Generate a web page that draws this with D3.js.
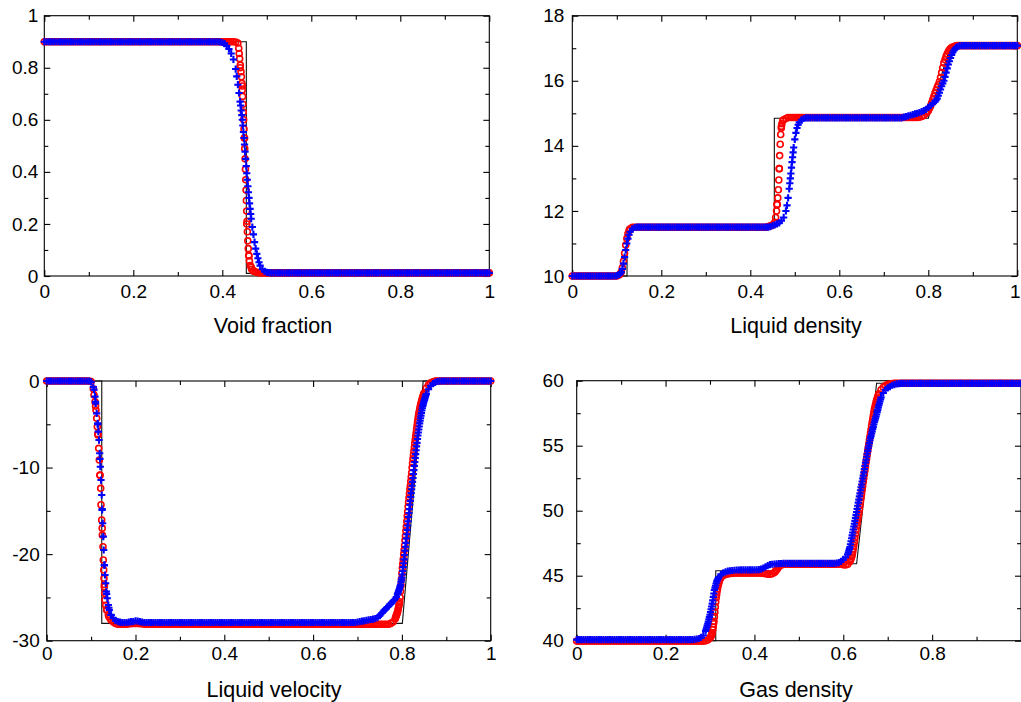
<!DOCTYPE html>
<html><head><meta charset="utf-8">
<script src="https://cdn.jsdelivr.net/npm/d3@7"></script>
<style>body{margin:0;background:#fff}svg{display:block}</style>
</head><body><svg id="c" width="1021" height="702"></svg>
<script>
// ---------- tick values and labels ----------
const xMajorTicks = [0, 0.2, 0.4, 0.6, 0.8, 1];
const xMinorTicks = [0.1, 0.3, 0.5, 0.7, 0.9];
const xTickLabels = ["0", "0.2", "0.4", "0.6", "0.8", "1"];
const gdXTickLabels = ["0", "0.2", "0.4", "0.6", "0.8", ""];
const vfYMajor = [0, 0.2, 0.4, 0.6, 0.8, 1];
const vfYMinor = [0.1, 0.3, 0.5, 0.7, 0.9];
const vfYLabels = ["0", "0.2", "0.4", "0.6", "0.8", "1"];
const ldYMajor = [10, 12, 14, 16, 18];
const ldYMinor = [11, 13, 15, 17];
const ldYLabels = ["10", "12", "14", "16", "18"];
const lvYMajor = [0, -10, -20, -30];
const lvYMinor = [-5, -15, -25];
const lvYLabels = ["0", "-10", "-20", "-30"];
const gdYMajor = [40, 45, 50, 55, 60];
const gdYMinor = [42.5, 47.5, 52.5, 57.5];
const gdYLabels = ["40", "45", "50", "55", "60"];
const titles = ["Void fraction", "Liquid density", "Liquid velocity", "Gas density"];

// ---------- exact solutions (black line) ----------
const vfExactX = [0, 0.454, 0.454, 1];
const vfExactY = [0.9, 0.9, 0.01, 0.01];
const ldExactX = [0, 0.123, 0.123, 0.454, 0.454, 0.8, 0.85, 1];
const ldExactY = [10, 10, 11.5, 11.5, 14.85, 14.85, 17.08, 17.08];
const lvExactX = [0, 0.124, 0.124, 0.801, 0.848, 1];
const lvExactY = [0, 0, -28, -28, 0, 0];
const gdExactX = [0, 0.313, 0.313, 0.454, 0.454, 0.63, 0.675, 1];
const gdExactY = [40, 40, 45.38, 45.38, 45.92, 45.92, 59.8, 59.8];

// ---------- numerical results on the uniform grid x = 0, 0.005, ..., 1 ----------
const vfRed = [
0.9,0.9,0.9,0.9,0.9,0.9,0.9,0.9,0.9,0.9,0.9,0.9,0.9,0.9,0.9,0.9,0.9,0.9,0.9,0.9,
0.9,0.9,0.9,0.9,0.9,0.9,0.9,0.9,0.9,0.9,0.9,0.9,0.9,0.9,0.9,0.9,0.9,0.9,0.9,0.9,
0.9,0.9,0.9,0.9,0.9,0.9,0.9,0.9,0.9,0.9,0.9,0.9,0.9,0.9,0.9,0.9,0.9,0.9,0.9,0.9,
0.9,0.9,0.9,0.9,0.9,0.9,0.9,0.9,0.9,0.9,0.9,0.9,0.9,0.9,0.9,0.9,0.9,0.9,0.9,0.9,
0.9,0.9,0.9,0.9,0.9,0.9,0.899,0.895,0.8,0.73,0.53,0.2,0.077,0.034,0.02,0.015,0.013,0.012,0.012,0.012,
0.012,0.012,0.012,0.012,0.012,0.012,0.012,0.012,0.012,0.012,0.012,0.012,0.012,0.012,0.012,0.012,0.012,0.012,0.012,0.012,
0.012,0.012,0.012,0.012,0.012,0.012,0.012,0.012,0.012,0.012,0.012,0.012,0.012,0.012,0.012,0.012,0.012,0.012,0.012,0.012,
0.012,0.012,0.012,0.012,0.012,0.012,0.012,0.012,0.012,0.012,0.012,0.012,0.012,0.012,0.012,0.012,0.012,0.012,0.012,0.012,
0.012,0.012,0.012,0.012,0.012,0.012,0.012,0.012,0.012,0.012,0.012,0.012,0.012,0.012,0.012,0.012,0.012,0.012,0.012,0.012,
0.012,0.012,0.012,0.012,0.012,0.012,0.012,0.012,0.012,0.012,0.012,0.012,0.012,0.012,0.012,0.012,0.012,0.012,0.012,0.012,
0.012];
const vfBlue = [
0.9,0.9,0.9,0.9,0.9,0.9,0.9,0.9,0.9,0.9,0.9,0.9,0.9,0.9,0.9,0.9,0.9,0.9,0.9,0.9,
0.9,0.9,0.9,0.9,0.9,0.9,0.9,0.9,0.9,0.9,0.9,0.9,0.9,0.9,0.9,0.9,0.9,0.9,0.9,0.9,
0.9,0.9,0.9,0.9,0.9,0.9,0.9,0.9,0.9,0.9,0.9,0.9,0.9,0.9,0.9,0.9,0.9,0.9,0.9,0.9,
0.9,0.9,0.9,0.9,0.9,0.9,0.9,0.9,0.9,0.9,0.9,0.9,0.9,0.9,0.9,0.9,0.9,0.9,0.9,0.899,
0.897,0.893,0.884,0.872,0.855,0.832,0.795,0.735,0.67,0.6,0.505,0.395,0.3,0.22,0.16,0.105,0.068,0.04,0.026,0.018,
0.014,0.013,0.012,0.012,0.012,0.012,0.012,0.012,0.012,0.012,0.012,0.012,0.012,0.012,0.012,0.012,0.012,0.012,0.012,0.012,
0.012,0.012,0.012,0.012,0.012,0.012,0.012,0.012,0.012,0.012,0.012,0.012,0.012,0.012,0.012,0.012,0.012,0.012,0.012,0.012,
0.012,0.012,0.012,0.012,0.012,0.012,0.012,0.012,0.012,0.012,0.012,0.012,0.012,0.012,0.012,0.012,0.012,0.012,0.012,0.012,
0.012,0.012,0.012,0.012,0.012,0.012,0.012,0.012,0.012,0.012,0.012,0.012,0.012,0.012,0.012,0.012,0.012,0.012,0.012,0.012,
0.012,0.012,0.012,0.012,0.012,0.012,0.012,0.012,0.012,0.012,0.012,0.012,0.012,0.012,0.012,0.012,0.012,0.012,0.012,0.012,
0.012];
const ldRed = [
10,10,10,10,10,10,10,10,10,10,10,10,10,10,10,10,10,10,10,10,
10,10.03,10.12,10.45,10.95,11.3,11.45,11.5,11.5,11.5,11.5,11.5,11.5,11.5,11.5,11.5,11.5,11.5,11.5,11.5,
11.5,11.5,11.5,11.5,11.5,11.5,11.5,11.5,11.5,11.5,11.5,11.5,11.5,11.5,11.5,11.5,11.5,11.5,11.5,11.5,
11.5,11.5,11.5,11.5,11.5,11.5,11.5,11.5,11.5,11.5,11.5,11.5,11.5,11.5,11.5,11.5,11.5,11.5,11.5,11.5,
11.5,11.5,11.5,11.5,11.5,11.5,11.5,11.5,11.52,11.54,11.57,11.65,12.2,13.3,14.6,14.8,14.84,14.87,14.87,14.87,
14.87,14.87,14.87,14.87,14.87,14.87,14.87,14.87,14.87,14.87,14.87,14.87,14.87,14.87,14.87,14.87,14.87,14.87,14.87,14.87,
14.87,14.87,14.87,14.87,14.87,14.87,14.87,14.87,14.87,14.87,14.87,14.87,14.87,14.87,14.87,14.87,14.87,14.87,14.87,14.87,
14.87,14.87,14.87,14.87,14.87,14.87,14.87,14.87,14.87,14.87,14.87,14.87,14.87,14.87,14.87,14.87,14.88,14.9,14.93,15.0,
15.08,15.22,15.42,15.62,15.8,15.97,16.25,16.55,16.75,16.9,16.99,17.04,17.07,17.08,17.08,17.08,17.08,17.08,17.08,17.08,
17.08,17.08,17.08,17.08,17.08,17.08,17.08,17.08,17.08,17.08,17.08,17.08,17.08,17.08,17.08,17.08,17.08,17.08,17.08,17.08,
17.08];
const ldBlue = [
10,10,10,10,10,10,10,10,10,10,10,10,10,10,10,10,10,10,10,10,
10.01,10.04,10.12,10.38,10.8,11.15,11.36,11.45,11.49,11.5,11.5,11.5,11.5,11.5,11.5,11.5,11.5,11.5,11.5,11.5,
11.5,11.5,11.5,11.5,11.5,11.5,11.5,11.5,11.5,11.5,11.5,11.5,11.5,11.5,11.5,11.5,11.5,11.5,11.5,11.5,
11.5,11.5,11.5,11.5,11.5,11.5,11.5,11.5,11.5,11.5,11.5,11.5,11.5,11.5,11.5,11.5,11.5,11.5,11.5,11.5,
11.5,11.5,11.5,11.5,11.5,11.5,11.5,11.5,11.5,11.52,11.55,11.57,11.6,11.63,11.7,11.8,12.0,12.4,13.0,13.65,
14.2,14.55,14.72,14.8,14.84,14.86,14.86,14.86,14.86,14.86,14.86,14.86,14.86,14.86,14.86,14.86,14.86,14.86,14.86,14.86,
14.86,14.86,14.86,14.86,14.86,14.86,14.86,14.86,14.86,14.86,14.86,14.86,14.86,14.86,14.86,14.86,14.86,14.86,14.86,14.86,
14.86,14.86,14.86,14.86,14.86,14.86,14.86,14.86,14.86,14.88,14.9,14.92,14.94,14.96,14.98,15.0,15.02,15.05,15.08,15.12,
15.18,15.24,15.3,15.36,15.45,15.63,15.83,16.0,16.25,16.5,16.7,16.87,16.98,17.04,17.07,17.08,17.08,17.08,17.08,17.08,
17.08,17.08,17.08,17.08,17.08,17.08,17.08,17.08,17.08,17.08,17.08,17.08,17.08,17.08,17.08,17.08,17.08,17.08,17.08,17.08,
17.08];
const lvRed = [
0,0,0,0,0,0,0,0,0,0,0,0,0,0,0,0,0,0,0,0,
-0.05,-0.9,-2.9,-6.1,-10.9,-17.0,-23.5,-26.4,-27.2,-27.6,-27.85,-28.0,-28.1,-28.1,-28.1,-28.1,-28.1,-28.05,-28.05,-28.0,
-28.0,-28.0,-28.05,-28.05,-28.1,-28.1,-28.1,-28.1,-28.1,-28.1,-28.1,-28.1,-28.1,-28.1,-28.1,-28.1,-28.1,-28.1,-28.1,-28.1,
-28.1,-28.1,-28.1,-28.1,-28.1,-28.1,-28.1,-28.1,-28.1,-28.1,-28.1,-28.1,-28.1,-28.1,-28.1,-28.1,-28.1,-28.1,-28.1,-28.1,
-28.1,-28.1,-28.1,-28.1,-28.1,-28.1,-28.1,-28.1,-28.1,-28.1,-28.1,-28.1,-28.1,-28.1,-28.1,-28.1,-28.1,-28.1,-28.1,-28.1,
-28.1,-28.1,-28.1,-28.1,-28.1,-28.1,-28.1,-28.1,-28.1,-28.1,-28.1,-28.1,-28.1,-28.1,-28.1,-28.1,-28.1,-28.1,-28.1,-28.1,
-28.1,-28.1,-28.1,-28.1,-28.1,-28.1,-28.1,-28.1,-28.1,-28.1,-28.1,-28.1,-28.1,-28.1,-28.1,-28.1,-28.1,-28.1,-28.1,-28.1,
-28.1,-28.1,-28.1,-28.1,-28.1,-28.1,-28.1,-28.1,-28.1,-28.1,-28.1,-28.1,-28.1,-28.1,-28.1,-28.0,-27.85,-27.45,-26.7,-25.5,
-22.2,-19.5,-16.8,-14.0,-11.6,-9.0,-6.8,-4.8,-3.3,-2.2,-1.4,-0.8,-0.45,-0.2,-0.08,-0.02,0,0,0,0,
0,0,0,0,0,0,0,0,0,0,0,0,0,0,0,0,0,0,0,0,
0];
const lvBlue = [
0,0,0,0,0,0,0,0,0,0,0,0,0,0,0,0,0,0,0,0,
-0.1,-0.7,-2.4,-5.0,-9.0,-14.8,-21.3,-24.6,-26.2,-27.0,-27.4,-27.65,-27.8,-27.85,-27.9,-27.9,-27.9,-27.85,-27.8,-27.8,
-27.72,-27.75,-27.8,-27.85,-27.9,-27.9,-27.9,-27.9,-27.9,-27.9,-27.9,-27.9,-27.9,-27.9,-27.9,-27.9,-27.9,-27.9,-27.9,-27.9,
-27.9,-27.9,-27.9,-27.9,-27.9,-27.9,-27.9,-27.9,-27.9,-27.9,-27.9,-27.9,-27.9,-27.9,-27.9,-27.9,-27.9,-27.9,-27.9,-27.9,
-27.9,-27.9,-27.9,-27.9,-27.9,-27.9,-27.9,-27.9,-27.9,-27.9,-27.9,-27.9,-27.9,-27.9,-27.9,-27.9,-27.9,-27.9,-27.9,-27.9,
-27.9,-27.9,-27.9,-27.9,-27.9,-27.9,-27.9,-27.9,-27.9,-27.9,-27.9,-27.9,-27.9,-27.9,-27.9,-27.9,-27.9,-27.9,-27.9,-27.9,
-27.9,-27.9,-27.9,-27.9,-27.9,-27.9,-27.9,-27.9,-27.9,-27.9,-27.9,-27.9,-27.9,-27.9,-27.9,-27.9,-27.9,-27.9,-27.9,-27.9,
-27.85,-27.8,-27.75,-27.7,-27.65,-27.6,-27.55,-27.5,-27.45,-27.35,-27.1,-26.8,-26.5,-26.25,-26.0,-25.75,-25.45,-25.15,-24.65,-23.9,
-22.7,-20.6,-18.2,-15.7,-13.4,-11.2,-8.9,-6.7,-4.9,-3.4,-2.3,-1.5,-0.95,-0.55,-0.3,-0.15,-0.06,-0.02,0,0,
0,0,0,0,0,0,0,0,0,0,0,0,0,0,0,0,0,0,0,0,
0];
const gdRed = [
39.97,39.97,39.97,39.97,39.97,39.97,39.97,39.97,39.97,39.97,39.97,39.97,39.97,39.97,39.97,39.97,39.97,39.97,39.97,39.97,
39.97,39.97,39.97,39.97,39.97,39.97,39.97,39.97,39.97,39.97,39.97,39.97,39.97,39.97,39.97,39.97,39.97,39.97,39.97,39.97,
39.97,39.97,39.97,39.97,39.97,39.97,39.97,39.97,39.97,39.97,39.97,39.97,39.97,39.97,39.97,39.97,39.97,39.97,39.99,40.05,
40.2,40.6,41.85,43.55,44.48,44.88,45.02,45.1,45.14,45.17,45.18,45.2,45.2,45.2,45.2,45.2,45.2,45.2,45.2,45.2,
45.2,45.2,45.2,45.2,45.18,45.15,45.12,45.12,45.15,45.25,45.45,45.7,45.82,45.86,45.88,45.88,45.88,45.88,45.88,45.88,
45.88,45.88,45.88,45.88,45.88,45.88,45.88,45.88,45.88,45.88,45.88,45.88,45.88,45.88,45.88,45.88,45.88,45.88,45.88,45.88,
45.84,45.82,45.88,46.1,46.6,47.6,48.8,49.8,51.0,52.2,53.4,54.6,55.7,56.8,57.8,58.5,59.0,59.3,59.5,59.62,
59.7,59.75,59.78,59.8,59.8,59.8,59.8,59.8,59.8,59.8,59.8,59.8,59.8,59.8,59.8,59.8,59.8,59.8,59.8,59.8,
59.8,59.8,59.8,59.8,59.8,59.8,59.8,59.8,59.8,59.8,59.8,59.8,59.8,59.8,59.8,59.8,59.8,59.8,59.8,59.8,
59.8,59.8,59.8,59.8,59.8,59.8,59.8,59.8,59.8,59.8,59.8,59.8,59.8,59.8,59.8,59.8,59.8,59.8,59.8,59.8,
59.8];
const gdBlue = [
40.08,40.08,40.08,40.08,40.08,40.08,40.08,40.08,40.08,40.08,40.08,40.08,40.08,40.08,40.08,40.08,40.08,40.08,40.08,40.08,
40.08,40.08,40.08,40.08,40.08,40.08,40.08,40.08,40.08,40.08,40.08,40.08,40.08,40.08,40.08,40.08,40.08,40.08,40.08,40.08,
40.08,40.08,40.08,40.08,40.08,40.08,40.08,40.08,40.08,40.08,40.08,40.08,40.08,40.1,40.13,40.17,40.25,40.4,40.75,41.3,
42.0,42.85,43.9,44.55,44.9,45.1,45.22,45.3,45.35,45.38,45.4,45.42,45.44,45.44,45.45,45.45,45.45,45.45,45.45,45.45,
45.45,45.45,45.46,45.5,45.58,45.68,45.78,45.85,45.88,45.9,45.92,45.93,45.94,45.95,45.95,45.95,45.95,45.95,45.95,45.95,
45.95,45.95,45.95,45.95,45.95,45.95,45.95,45.95,45.95,45.95,45.95,45.95,45.95,45.95,45.95,45.95,45.95,45.97,46.0,46.1,
46.25,46.4,46.65,47.2,48.1,49.0,49.9,50.85,51.8,52.7,53.7,54.6,55.4,56.1,56.8,57.4,58.1,58.7,59.05,59.3,
59.45,59.55,59.65,59.7,59.75,59.78,59.8,59.8,59.8,59.8,59.8,59.8,59.8,59.8,59.8,59.8,59.8,59.8,59.8,59.8,
59.8,59.8,59.8,59.8,59.8,59.8,59.8,59.8,59.8,59.8,59.8,59.8,59.8,59.8,59.8,59.8,59.8,59.8,59.8,59.8,
59.8,59.8,59.8,59.8,59.8,59.8,59.8,59.8,59.8,59.8,59.8,59.8,59.8,59.8,59.8,59.8,59.8,59.8,59.8,59.8,
59.8];

// ---------- extra cells read in the steep parts, [x, value] ----------
const vfRedFine = [[0.437,0.875],[0.438,0.855],[0.439,0.835],[0.4405,0.81],[0.442,0.785],[0.443,0.765],[0.444,0.74],[0.4448,0.715],[0.4456,0.69],[0.4464,0.66],[0.4472,0.63],[0.448,0.6],[0.4488,0.565],[0.4496,0.53],[0.4504,0.49],[0.4512,0.45],[0.452,0.41],[0.4527,0.37],[0.4534,0.33],[0.4541,0.29],[0.4548,0.25],[0.4556,0.21],[0.4564,0.17],[0.4573,0.135],[0.4583,0.105],[0.4595,0.08],[0.461,0.058],[0.463,0.04],[0.466,0.026],[0.47,0.018]];
const vfBlueFine = [[0.4325,0.767],[0.4375,0.703],[0.4412,0.655],[0.4425,0.636],[0.4438,0.618],[0.4462,0.578],[0.4475,0.553],[0.4488,0.53],[0.4512,0.478],[0.4525,0.45],[0.4538,0.422],[0.4562,0.37],[0.4575,0.345],[0.4588,0.322],[0.4612,0.279],[0.4625,0.258],[0.4638,0.238],[0.4675,0.188],[0.4725,0.13],[0.4775,0.085],[0.4825,0.053]];
const ldRedFine = [[0.1075,10.06],[0.1125,10.25],[0.1175,10.7],[0.1225,11.15],[0.1275,11.4],[0.457,11.8],[0.459,12.0],[0.4605,12.2],[0.4618,12.4],[0.463,12.65],[0.464,12.95],[0.4652,13.3],[0.466,13.7],[0.4672,14.05],[0.4683,14.35],[0.4697,14.55],[0.471,14.68],[0.473,14.78],[0.7975,15.04],[0.8025,15.15],[0.8075,15.32],[0.8125,15.52],[0.8175,15.71],[0.8225,15.88],[0.8275,16.1],[0.8325,16.4],[0.8375,16.65],[0.8425,16.83],[0.8475,16.95],[0.8525,17.02]];
const ldBlueFine = [[0.1075,10.07],[0.1125,10.22],[0.1175,10.58],[0.1225,11.0],[0.1275,11.27],[0.4825,12.17],[0.4875,12.68],[0.4888,12.85],[0.4912,13.15],[0.4925,13.33],[0.4938,13.5],[0.4962,13.8],[0.4975,13.95],[0.5025,14.4],[0.5075,14.65],[0.8175,15.4],[0.8225,15.54],[0.8275,15.73],[0.8325,15.92],[0.8375,16.12],[0.8425,16.38],[0.8475,16.6],[0.8525,16.79],[0.8575,16.93],[0.8625,17.02]];
const lvRedFine = [[0.1066,-1.62],[0.1088,-2.39],[0.111,-3.35],[0.1126,-4.31],[0.114,-5.28],[0.1156,-6.24],[0.1171,-7.78],[0.1185,-9.13],[0.12,-10.86],[0.1216,-12.4],[0.1223,-14.3],[0.1239,-16.06],[0.1253,-17.8],[0.1268,-19.14],[0.1275,-20.68],[0.1284,-21.83],[0.1291,-22.8],[0.1298,-23.76],[0.1306,-24.53],[0.1313,-25.3],[0.1329,-25.9],[0.1351,-26.45],[0.1388,-27.0],[0.1426,-27.4],
[0.786,-27.3],[0.787,-27.15],[0.788,-27.0],[0.789,-26.85],[0.791,-26.5],[0.792,-26.25],[0.793,-26.0],[0.794,-25.8],[0.796,-25.0],[0.797,-24.3],[0.798,-23.6],[0.799,-22.9],[0.801,-21.6],[0.802,-21.1],[0.803,-20.6],[0.804,-20.0],[0.806,-19.0],[0.807,-18.4],[0.808,-17.9],[0.809,-17.3],[0.811,-16.2],[0.812,-15.6],[0.813,-15.1],[0.814,-14.5],[0.816,-13.5],[0.817,-13.0],[0.818,-12.5],[0.819,-12.1],[0.821,-11.1],[0.822,-10.6],[0.823,-10.0],[0.824,-9.5],[0.826,-8.55],[0.827,-8.1],[0.828,-7.65],[0.829,-7.2],[0.831,-6.4],[0.832,-6.0],[0.833,-5.6],[0.834,-5.2],[0.836,-4.45],[0.837,-4.1],[0.838,-3.8],[0.839,-3.55],[0.841,-3.05],[0.842,-2.8],[0.843,-2.6],[0.844,-2.4],[0.846,-2.0],[0.847,-1.85],[0.848,-1.7],[0.849,-1.55]];
const lvBlueFine = [[0.1066,-1.0],[0.1088,-1.8],[0.1103,-2.6],[0.1126,-3.74],[0.1149,-4.89],[0.1163,-5.85],[0.1178,-6.82],[0.1194,-8.35],[0.1208,-9.9],[0.1223,-11.44],[0.1239,-13.17],[0.1246,-14.9],[0.1261,-16.44],[0.1275,-17.98],[0.1284,-19.52],[0.1298,-21.25],[0.1313,-22.41],[0.1329,-23.37],[0.1343,-24.33],[0.1365,-25.1],[0.1388,-25.88],[0.141,-26.45],[0.1448,-27.03],
[0.7525,-26.95],[0.7575,-26.65],[0.7625,-26.4],[0.7675,-26.1],[0.7725,-25.85],[0.7775,-25.6],[0.7825,-25.3],[0.7875,-24.95],
[0.791,-24.5],[0.792,-24.35],[0.793,-24.2],[0.794,-24.05],[0.796,-23.7],[0.797,-23.5],[0.798,-23.2],[0.799,-22.95],[0.801,-22.35],[0.802,-21.95],[0.803,-21.5],[0.804,-21.05],[0.806,-20.1],[0.807,-19.6],[0.808,-19.15],[0.809,-18.7],[0.811,-17.7],[0.812,-17.2],[0.813,-16.7],[0.814,-16.2],[0.816,-15.25],[0.817,-14.8],[0.818,-14.3],[0.819,-13.85],[0.821,-12.95],[0.822,-12.5],[0.823,-12.1],[0.824,-11.65],[0.826,-10.75],[0.827,-10.3],[0.828,-9.8],[0.829,-9.35],[0.831,-8.45],[0.832,-8.0],[0.833,-7.55],[0.834,-7.15],[0.836,-6.3],[0.837,-5.95],[0.838,-5.6],[0.839,-5.25],[0.841,-4.6],[0.842,-4.3],[0.843,-4.0],[0.844,-3.7],[0.846,-3.15],[0.847,-2.9],[0.848,-2.7],[0.849,-2.5],[0.851,-2.15],[0.852,-2.0],[0.853,-1.8],[0.854,-1.65]];
const gdRedFine = [[0.302,40.3],[0.303,40.4],[0.304,40.5],[0.306,40.85],[0.307,41.05],[0.308,41.3],[0.309,41.5],[0.311,42.2],[0.312,42.6],[0.313,43.0],[0.314,43.3],[0.316,43.8],[0.317,44.0],[0.318,44.2],[0.319,44.35],[0.321,44.6],[0.322,44.7],[0.323,44.78],[0.324,44.84],[0.4475,45.35],[0.4525,45.58],
[0.61625,46.2],[0.6175,46.33],[0.61875,46.46],[0.62125,46.83],[0.6225,47.08],[0.62375,47.33],[0.62625,47.9],[0.6275,48.2],[0.62875,48.5],[0.63125,49.05],[0.6325,49.3],[0.63375,49.55],[0.63625,50.1],[0.6375,50.4],[0.63875,50.7],[0.64125,51.3],[0.6425,51.6],[0.64375,51.9],[0.64625,52.5],[0.6475,52.8],[0.64875,53.1],[0.65125,53.7],[0.6525,54.0],[0.65375,54.3],[0.65625,54.88],[0.6575,55.15],[0.65875,55.43],[0.66125,55.98],[0.6625,56.25],[0.66375,56.53],[0.66625,57.05],[0.6675,57.3],[0.66875,57.55],[0.67125,57.98],[0.6725,58.15],[0.67375,58.33],[0.67625,58.63],[0.6775,58.75],[0.67875,58.88]];
const gdBlueFine = [[0.29125,40.88],[0.2925,41.02],[0.29375,41.16],[0.29625,41.47],[0.2975,41.65],[0.29875,41.82],[0.30125,42.2],[0.3025,42.42],[0.30375,42.63],[0.30625,43.1],[0.3075,43.37],[0.30875,43.63],[0.31125,44.07],[0.3125,44.23],[0.31375,44.4],[0.31625,44.64],[0.3175,44.73],[0.31875,44.82],
[0.61125,46.78],[0.6125,46.92],[0.61375,47.06],[0.61625,47.42],[0.6175,47.65],[0.61875,47.88],[0.62125,48.32],[0.6225,48.55],[0.62375,48.78],[0.62625,49.22],[0.6275,49.45],[0.62875,49.68],[0.63125,50.14],[0.6325,50.38],[0.63375,50.62],[0.63625,51.1],[0.6375,51.33],[0.63875,51.57],[0.64125,52.02],[0.6425,52.25],[0.64375,52.48],[0.64625,52.95],[0.6475,53.2],[0.64875,53.45],[0.65125,53.92],[0.6525,54.15],[0.65375,54.38],[0.65625,54.8],[0.6575,55.0],[0.65875,55.2],[0.66125,55.58],[0.6625,55.75],[0.66375,55.93],[0.66625,56.28],[0.6675,56.45],[0.66875,56.63],[0.67125,56.95],[0.6725,57.1],[0.67375,57.25],[0.67625,57.58],[0.6775,57.75],[0.67875,57.93],[0.68125,58.25],[0.6825,58.4],[0.68375,58.55]];

// ---------- layout ----------
const FONT = '"Liberation Sans", Arial, Helvetica, sans-serif';
const W = 1021, H = 702;
const panels = [
  {l:44.3, r:489.3, t:15.7, b:276, yDom:[0,1], yMajor:vfYMajor, yMinor:vfYMinor, yLabels:vfYLabels, xLabels:xTickLabels,
   yGap:6, xPad:9, title:titles[0], tx:273, ty:332.5, exX:vfExactX, exY:vfExactY, red:vfRed, redFine:vfRedFine, blue:vfBlue, blueFine:vfBlueFine},
  {l:572.3, r:1017.3, t:15.7, b:276, yDom:[10,18], yMajor:ldYMajor, yMinor:ldYMinor, yLabels:ldYLabels, xLabels:xTickLabels,
   yGap:8, xPad:9, title:titles[1], tx:796, ty:332.5, exX:ldExactX, exY:ldExactY, red:ldRed, redFine:ldRedFine, blue:ldBlue, blueFine:ldBlueFine},
  {l:46.7, r:490.7, t:381, b:640.7, yDom:[-30,0], yMajor:lvYMajor, yMinor:lvYMinor, yLabels:lvYLabels, xLabels:xTickLabels,
   yGap:7, xPad:6, title:titles[2], tx:274, ty:697, exX:lvExactX, exY:lvExactY, red:lvRed, redFine:lvRedFine, blue:lvBlue, blueFine:lvBlueFine},
  {l:576.7, r:1021, t:380.7, b:640.7, yDom:[40,60], yMajor:gdYMajor, yMinor:gdYMinor, yLabels:gdYLabels, xLabels:gdXTickLabels,
   yGap:13, xPad:6, title:titles[3], tx:796, ty:697, exX:gdExactX, exY:gdExactY, red:gdRed, redFine:gdRedFine, blue:gdBlue, blueFine:gdBlueFine}
];

const svg = d3.select("#c");
svg.append("rect").attr("width", W).attr("height", H).attr("fill", "#fff");

function gridPoints(arr, fine) {
  const n = arr.length - 1;
  return arr.map((v, i) => [i / n, v]).concat(fine);
}

panels.forEach(p => {
  const x = d3.scaleLinear().domain([0,1]).range([p.l, p.r]);
  const y = d3.scaleLinear().domain(p.yDom).range([p.b, p.t]);
  const g = svg.append("g");

  function ax(gen, tx, ty) {
    const a = g.append("g").attr("transform", `translate(${tx},${ty})`).call(gen);
    a.select(".domain").remove();
    a.selectAll("line").attr("stroke", "#000").attr("stroke-width", 1.1);
    a.attr("font-size", 19).attr("font-family", FONT);
    a.selectAll("text").attr("fill", "#000");
    return a;
  }
  const xl = d => p.xLabels[xMajorTicks.indexOf(d)] || "";
  const yl = d => p.yLabels[p.yMajor.indexOf(d)] || "";
  const bottom = ax(d3.axisBottom(x).tickValues(xMajorTicks).tickSize(-6).tickPadding(p.xPad).tickFormat(xl), 0, p.b);
  // keep a label that would run past the right edge of the page inside it
  bottom.selectAll("text").each(function() {
    const bb = this.getBBox();
    const tr = this.parentNode.getAttribute("transform");
    const tx = +/translate\(([-\d.]+)/.exec(tr)[1];
    const over = tx + bb.x + bb.width - (W - 0.5);
    if (over > 0) d3.select(this).attr("x", -over);
  });
  ax(d3.axisBottom(x).tickValues(xMinorTicks).tickSize(-4).tickFormat(""), 0, p.b);
  ax(d3.axisTop(x).tickValues(xMajorTicks).tickSize(-6).tickFormat(""), 0, p.t);
  ax(d3.axisTop(x).tickValues(xMinorTicks).tickSize(-4).tickFormat(""), 0, p.t);
  ax(d3.axisLeft(y).tickValues(p.yMajor).tickSize(-6).tickPadding(p.yGap).tickFormat(yl), p.l, 0);
  ax(d3.axisLeft(y).tickValues(p.yMinor).tickSize(-4).tickFormat(""), p.l, 0);
  ax(d3.axisRight(y).tickValues(p.yMajor).tickSize(-6).tickFormat(""), p.r, 0);
  ax(d3.axisRight(y).tickValues(p.yMinor).tickSize(-4).tickFormat(""), p.r, 0);

  g.append("rect").attr("x", p.l).attr("y", p.t).attr("width", p.r - p.l).attr("height", p.b - p.t)
    .attr("fill", "none").attr("stroke", "#000").attr("stroke-width", 1.1);

  g.append("text").attr("x", p.tx).attr("y", p.ty).attr("text-anchor", "middle")
    .attr("font-family", FONT).attr("font-size", 21.5).attr("fill", "#000").text(p.title);

  // exact solution
  const ex = p.exX.map((v, i) => [v, p.exY[i]]);
  g.append("path").datum(ex).attr("fill", "none").attr("stroke", "#111").attr("stroke-width", 1.1)
    .attr("d", d3.line().x(d => x(d[0])).y(d => y(d[1])));

  // red circles
  g.append("g").selectAll("circle").data(gridPoints(p.red, p.redFine)).join("circle")
    .attr("cx", d => x(d[0])).attr("cy", d => y(d[1])).attr("r", 3)
    .attr("fill", "none").attr("stroke", "#ff0000").attr("stroke-width", 1.6);

  // blue crosses
  g.append("g").selectAll("path").data(gridPoints(p.blue, p.blueFine)).join("path")
    .attr("transform", d => `translate(${x(d[0])},${y(d[1])})`)
    .attr("d", "M-3.6,0H3.6M0,-3.6V3.6")
    .attr("fill", "none").attr("stroke", "#0000ff").attr("stroke-width", 2.1);
});
</script>
</body></html>
